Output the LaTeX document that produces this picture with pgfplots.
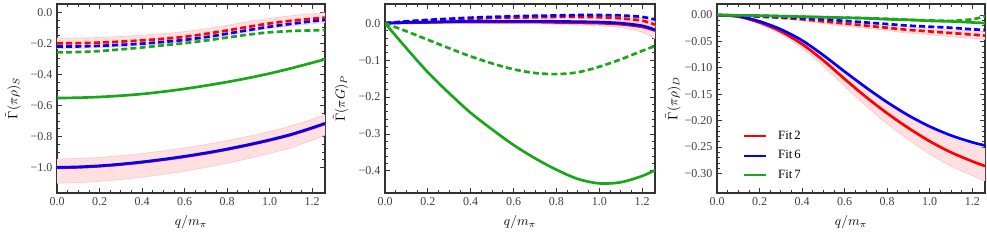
\documentclass[border=0pt]{standalone}
\usepackage{fontspec}
\setmainfont{Liberation Serif}
\usepackage{pgfplots}
\usepackage{pgfplotstable}
\pgfplotsset{compat=1.18}
\usepgfplotslibrary{fillbetween}
\definecolor{mred}{rgb}{1,0,0}
\definecolor{mblue}{rgb}{0,0,1}
\definecolor{mgreen}{rgb}{0.1,0.65,0.1}
\definecolor{band}{rgb}{1,0.88,0.88}
\definecolor{bandedge}{rgb}{1,0.78,0.78}

\pgfplotstableread{
x rd bd gd gs bs rs rdu rdl rsu rsl
0 -0.200 -0.221 -0.258 -0.552 -0.998 -1.001 -0.167 -0.233 -0.945 -1.100
0.1 -0.199 -0.220 -0.256 -0.550 -0.995 -0.998 -0.166 -0.232 -0.941 -1.096
0.2 -0.195 -0.216 -0.250 -0.545 -0.988 -0.991 -0.162 -0.228 -0.934 -1.088
0.3 -0.189 -0.210 -0.239 -0.537 -0.977 -0.980 -0.156 -0.222 -0.923 -1.076
0.4 -0.181 -0.202 -0.227 -0.526 -0.963 -0.966 -0.148 -0.214 -0.909 -1.061
0.5 -0.171 -0.191 -0.213 -0.511 -0.946 -0.949 -0.138 -0.204 -0.892 -1.043
0.6 -0.158 -0.178 -0.199 -0.493 -0.927 -0.930 -0.125 -0.191 -0.873 -1.022
0.7 -0.139 -0.160 -0.182 -0.472 -0.905 -0.908 -0.106 -0.172 -0.851 -0.998
0.8 -0.117 -0.138 -0.163 -0.449 -0.880 -0.883 -0.084 -0.150 -0.826 -0.971
0.9 -0.094 -0.115 -0.144 -0.423 -0.852 -0.855 -0.061 -0.127 -0.798 -0.941
1.0 -0.072 -0.093 -0.129 -0.394 -0.821 -0.824 -0.040 -0.104 -0.767 -0.908
1.1 -0.055 -0.075 -0.121 -0.361 -0.786 -0.789 -0.023 -0.087 -0.732 -0.871
1.2 -0.042 -0.058 -0.117 -0.325 -0.743 -0.746 -0.010 -0.074 -0.689 -0.823
1.26 -0.035 -0.050 -0.115 -0.303 -0.715 -0.718 -0.004 -0.066 -0.660 -0.790
}\tabS

\pgfplotstableread{
x gs gd bd rd bs rs rsu rsl rdu rdl
0 0 0 0 0 0 0 0 0 0 0
0.1 -0.068 -0.022 0.005 0.004 0.002 0.001 0.003 -0.001 0.006 0.002
0.2 -0.133 -0.045 0.009 0.007 0.003 0.002 0.005 -0.001 0.010 0.004
0.3 -0.190 -0.068 0.012 0.010 0.004 0.003 0.006 0.000 0.013 0.007
0.4 -0.243 -0.090 0.015 0.012 0.005 0.003 0.006 0.000 0.015 0.009
0.5 -0.288 -0.109 0.017 0.014 0.005 0.003 0.007 -0.001 0.017 0.011
0.6 -0.330 -0.125 0.019 0.015 0.005 0.003 0.007 -0.001 0.019 0.011
0.7 -0.366 -0.135 0.020 0.016 0.005 0.003 0.008 -0.002 0.020 0.012
0.8 -0.397 -0.138 0.021 0.017 0.005 0.002 0.007 -0.003 0.021 0.013
0.9 -0.422 -0.133 0.022 0.017 0.004 0.001 0.007 -0.005 0.021 0.013
1.0 -0.434 -0.118 0.022 0.016 0.003 0.000 0.006 -0.007 0.021 0.011
1.1 -0.431 -0.098 0.021 0.013 0.000 -0.003 0.005 -0.012 0.019 0.007
1.2 -0.414 -0.075 0.017 0.007 -0.007 -0.010 0.001 -0.024 0.014 0.000
1.26 -0.398 -0.062 0.010 -0.004 -0.018 -0.020 -0.004 -0.042 0.005 -0.013
}\tabP

\pgfplotstableread{
x rs bs rd bd gs gd rsu rsl rdu rdl
0 0 0 0 0 0 0 0 0 0 0
0.1 -0.003 -0.002 -0.001 -0.001 -0.0005 -0.0005 -0.002 -0.004 0.000 -0.002
0.2 -0.014 -0.012 -0.003 -0.002 -0.001 -0.001 -0.012 -0.017 -0.001 -0.005
0.3 -0.031 -0.027 -0.005 -0.004 -0.002 -0.002 -0.027 -0.036 -0.003 -0.007
0.4 -0.055 -0.048 -0.008 -0.006 -0.003 -0.003 -0.049 -0.063 -0.005 -0.011
0.5 -0.086 -0.076 -0.012 -0.008 -0.004 -0.004 -0.077 -0.097 -0.008 -0.016
0.6 -0.121 -0.107 -0.016 -0.011 -0.005 -0.005 -0.109 -0.135 -0.011 -0.021
0.7 -0.155 -0.137 -0.020 -0.014 -0.006 -0.006 -0.140 -0.172 -0.015 -0.025
0.8 -0.186 -0.165 -0.024 -0.017 -0.008 -0.007 -0.168 -0.206 -0.019 -0.029
0.9 -0.214 -0.190 -0.028 -0.020 -0.009 -0.009 -0.193 -0.236 -0.022 -0.034
1.0 -0.239 -0.211 -0.031 -0.022 -0.011 -0.010 -0.215 -0.263 -0.025 -0.037
1.1 -0.260 -0.228 -0.034 -0.024 -0.012 -0.011 -0.233 -0.286 -0.028 -0.041
1.2 -0.277 -0.241 -0.037 -0.027 -0.014 -0.008 -0.246 -0.304 -0.030 -0.044
1.26 -0.286 -0.247 -0.039 -0.028 -0.015 -0.002 -0.253 -0.314 -0.032 -0.046
}\tabD

\pgfplotsset{
 mystyle/.style={scale only axis, height=141.75pt, anchor=south west,
  xmin=0, xmax=1.26, xtick={0,0.2,0.4,0.6,0.8,1.0,1.2},
  xticklabels={0.0,0.2,0.4,0.6,0.8,1.0,1.2},
  minor x tick num=3, tick align=inside,
  major tick length=3.5pt, minor tick length=2pt,
  axis line style={line width=0.8pt, black!80},
  every tick/.style={black!80, line width=0.6pt},
  tick label style={font=\fontsize{9}{10}\selectfont, text=black!75},
  label style={font=\fontsize{10}{12}\selectfont, text=black!80},
  xlabel={$q/m_\pi$},
  every axis x label/.style={at={(axis description cs:0.5,-0.155)}, anchor=center},
  every axis y label/.style={at={(axis description cs:-0.165,0.5)}, rotate=90, anchor=center}},
 sol/.style={line width=2pt, smooth, no markers},
 dsh/.style={line width=2pt, dash pattern=on 4.5pt off 2.4pt, smooth, no markers},
 edge/.style={bandedge, line width=0.5pt, smooth, no markers},
 bfill/.style={fill=band, draw=none},
}

\begin{document}
\begin{tikzpicture}

% Panel 1
\begin{axis}[mystyle, at={(42.75pt,36pt)}, width=201pt,
  ymin=-1.163, ymax=0.053, ytick={-1,-0.8,-0.6,-0.4,-0.2,0},
  yticklabels={−1.0,−0.8,−0.6,−0.4,−0.2,0.0}, minor y tick num=3,
  ylabel={$\tilde{\Gamma}(\pi\rho)_S$}]
\addplot[edge, name path=a1] table[x=x, y=rdu]{\tabS};
\addplot[edge, name path=a2] table[x=x, y=rdl]{\tabS};
\addplot[bfill] fill between[of=a1 and a2];
\addplot[edge, name path=b1] table[x=x, y=rsu]{\tabS};
\addplot[edge, name path=b2] table[x=x, y=rsl]{\tabS};
\addplot[bfill] fill between[of=b1 and b2];
\addplot[sol, mred] table[x=x, y=rs]{\tabS};
\addplot[sol, mblue] table[x=x, y=bs]{\tabS};
\addplot[sol, mgreen] table[x=x, y=gs]{\tabS};
\addplot[dsh, mred] table[x=x, y=rd]{\tabS};
\addplot[dsh, mblue] table[x=x, y=bd]{\tabS};
\addplot[dsh, mgreen] table[x=x, y=gd]{\tabS};
\end{axis}

% Panel 2
\begin{axis}[mystyle, at={(288.75pt,36pt)}, width=202.5pt,
  ymin=-0.46, ymax=0.052, ytick={-0.4,-0.3,-0.2,-0.1,0},
  yticklabels={−0.4,−0.3,−0.2,−0.1,0.0}, minor y tick num=4,
  ylabel={$\tilde{\Gamma}(\pi G)_P$}]
\addplot[edge, name path=c1] table[x=x, y=rdu]{\tabP};
\addplot[edge, name path=c2] table[x=x, y=rdl]{\tabP};
\addplot[bfill] fill between[of=c1 and c2];
\addplot[edge, name path=d1] table[x=x, y=rsu]{\tabP};
\addplot[edge, name path=d2] table[x=x, y=rsl]{\tabP};
\addplot[bfill] fill between[of=d1 and d2];
\addplot[sol, mred] table[x=x, y=rs]{\tabP};
\addplot[dsh, mred] table[x=x, y=rd]{\tabP};
\addplot[sol, mblue] table[x=x, y=bs]{\tabP};
\addplot[dsh, mblue] table[x=x, y=bd]{\tabP};
\addplot[sol, mgreen] table[x=x, y=gs]{\tabP};
\addplot[dsh, mgreen] table[x=x, y=gd]{\tabP};
\end{axis}

% Panel 3
\begin{axis}[mystyle, at={(537.75pt,36pt)}, width=201pt,
  ymin=-0.337, ymax=0.021, ytick={-0.3,-0.25,-0.2,-0.15,-0.1,-0.05,0},
  yticklabels={−0.30,−0.25,−0.20,−0.15,−0.10,−0.05,0.00}, minor y tick num=4,
  ylabel={$\tilde{\Gamma}(\pi\rho)_D$},
  legend style={at={(axis description cs:0.095,0.05)}, anchor=south west, draw=none, fill=none,
    font=\fontsize{9.5}{10}\selectfont, row sep=3.0pt, column sep=6.5pt, inner sep=0pt},
  legend cell align=left,
  legend image code/.code={\draw[#1] (0pt,0pt) -- (16.5pt,0pt);}]
\addlegendimage{mred, line width=1.6pt}
\addlegendimage{mblue, line width=1.6pt}
\addlegendimage{mgreen, line width=1.6pt}
\addplot[edge, name path=e1, forget plot] table[x=x, y=rdu]{\tabD};
\addplot[edge, name path=e2, forget plot] table[x=x, y=rdl]{\tabD};
\addplot[bfill, forget plot] fill between[of=e1 and e2];
\addplot[edge, name path=f1, forget plot] table[x=x, y=rsu]{\tabD};
\addplot[edge, name path=f2, forget plot] table[x=x, y=rsl]{\tabD};
\addplot[bfill, forget plot] fill between[of=f1 and f2];
\addplot[sol, mred, forget plot] table[x=x, y=rs]{\tabD};
\addplot[dsh, mred, forget plot] table[x=x, y=rd]{\tabD};
\addplot[sol, mblue, forget plot] table[x=x, y=bs]{\tabD};
\addplot[dsh, mblue, forget plot] table[x=x, y=bd]{\tabD};
\addplot[sol, mgreen, forget plot] table[x=x, y=gs]{\tabD};
\addplot[dsh, mgreen, forget plot] table[x=x, y=gd]{\tabD};
\legend{Fit\,2, Fit\,6, Fit\,7}
\end{axis}
\pgfresetboundingbox
\useasboundingbox (0,0) rectangle (740.25pt,180.75pt);
\end{tikzpicture}
\end{document}
